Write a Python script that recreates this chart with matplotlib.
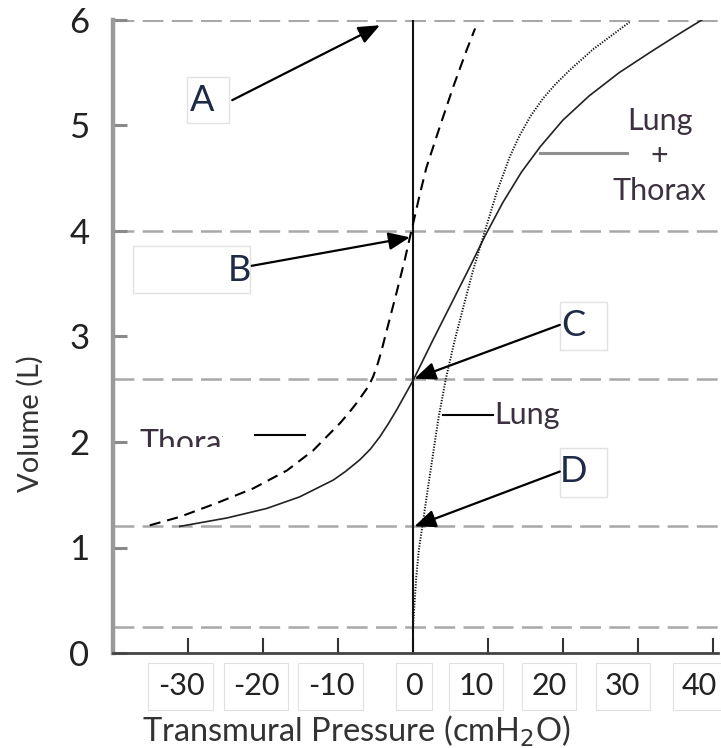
import matplotlib
matplotlib.use('Agg')
import matplotlib.pyplot as plt
from matplotlib.patches import Rectangle
from matplotlib.transforms import ScaledTranslation, Bbox, TransformedBbox

plt.rcParams['font.family'] = ['Lato', 'DejaVu Sans']
plt.rcParams['lines.scale_dashes'] = False

# ---------------- data ----------------
thorax_p = [-35.1, -31.1, -26.2, -21.3, -16.8, -13.3, -9.7, -8.5, -7.5, -6.6, -5.9, -5.3, -4.7,
            -4.2, -3.7, -2.2, -1.07, -0.4, 0, 0.9, 1.8, 3.6, 5.4, 7.2, 8.3]
thorax_v = [1.21, 1.29, 1.42, 1.56, 1.73, 1.92, 2.18, 2.28, 2.37, 2.46, 2.53, 2.62, 2.74,
            2.86, 3.0, 3.41, 3.73, 3.94, 4.06, 4.34, 4.60, 4.99, 5.37, 5.72, 5.92]

lung_thorax_p = [-31.1, -24.8, -19.5, -15.1, -10.6, -9.0, -7.1, -5.7, -4.4, -3.3, -2.2, -1.1, 0,
                 2.7, 5.4, 7.6, 9.6, 12.0, 14.5, 17.0, 20.0, 23.5, 27.5, 32.0, 36.0, 39.0]
lung_thorax_v = [1.20, 1.28, 1.37, 1.48, 1.64, 1.72, 1.83, 1.93, 2.05, 2.17, 2.30, 2.44, 2.58,
                 2.97, 3.35, 3.66, 3.95, 4.27, 4.56, 4.80, 5.05, 5.28, 5.50, 5.71, 5.89, 6.02]

lung_p = [0, 0.2, 0.45, 0.8, 1.3, 2.0, 2.7, 3.4, 4.4, 5.6, 6.7, 8.0, 9.4, 11.2, 12.9, 14.2,
          15.7, 17.4, 19.0, 21.0, 24.0, 28.9]
lung_v = [0.22, 0.45, 0.72, 0.98, 1.22, 1.56, 1.89, 2.22, 2.60, 2.97, 3.27, 3.62, 3.95, 4.37,
          4.70, 4.90, 5.09, 5.26, 5.39, 5.53, 5.72, 5.98]

ref_volumes = [6.0, 4.0, 2.6, 1.2, 0.25]

x_ticks = [-30, -20, -10, 0, 10, 20, 30, 40]
x_ticklabels = ['-30', '-20', '-10', '0', '10', '20', '30', '40']
y_ticks = [0, 1, 2, 3, 4, 5, 6]

point_labels = ['A', 'B', 'C', 'D']
arrow_tips = [(-4.4, 5.95), (-0.4, 3.94), (0.2, 2.6), (0.2, 1.2)]
arrow_starts = [(-24.1, 5.24), (-21.5, 3.67), (19.6, 3.11), (19.6, 1.72)]
label_pos = [(-28.1, 5.24), (-23.1, 3.63), (21.4, 3.1), (21.4, 1.72)]

# ---------------- figure ----------------
fig = plt.figure(figsize=(7.21, 7.48), dpi=100)
ax = fig.add_axes([113 / 721, 95 / 748, 605 / 721, 633 / 748])
ax.set_xlim(-40, 40.7)
ax.set_ylim(0, 6)

# horizontal reference dashed lines
for v in ref_volumes:
    ax.axhline(v, color='#a8a8a8', lw=2.2 if v == 6.0 else 1.8, dashes=(15, 6), zorder=1)

# vertical line at 0
ax.plot([0, 0], [0, 6], color='#111111', lw=1.5, zorder=2)

# curves
ax.plot(thorax_p, thorax_v, color='black', lw=1.5, dashes=(8, 5), zorder=3)
ax.plot(lung_thorax_p, lung_thorax_v, color='#222222', lw=1.2, zorder=3)
ax.plot(lung_p, lung_v, color='#111111', lw=1.4, linestyle=(0, (0.9, 1.1)), zorder=3)

# label boxes
boxes = [(-30.1, 5.02, 5.6, 0.44), (-37.3, 3.41, 15.6, 0.45),
         (19.6, 2.87, 6.3, 0.46), (19.6, 1.48, 6.3, 0.46)]
for (bx, by, bw, bh) in boxes:
    ax.add_patch(Rectangle((bx, by), bw, bh, fill=False, ec='#e2e2e2', lw=1.0, zorder=1))

# arrows and letters
for lab, tip, st, pos in zip(point_labels, arrow_tips, arrow_starts, label_pos):
    ax.annotate('', xy=tip, xytext=st,
                arrowprops=dict(arrowstyle='-|>,head_length=0.65,head_width=0.27',
                                mutation_scale=20, lw=1.6, color='black',
                                shrinkA=0, shrinkB=0), zorder=5)
    ax.text(pos[0], pos[1], lab, fontsize=26, color='#1f2a44', ha='center', va='center', zorder=5)

# curve labels
ax.plot([4.0, 10.7], [2.26, 2.26], color='black', lw=1.5)
ax.text(10.9, 2.26, 'Lung', fontsize=22, color='#3d3040', ha='left', va='center')

ax.plot([16.9, 28.5], [4.74, 4.74], color='#909090', lw=2.2)
ax.text(32.9, 4.71, 'Lung\n+\nThorax', fontsize=22, color='#3d3040', ha='center', va='center',
        linespacing=1.3)

ax.plot([-21.1, -14.4], [2.07, 2.07], color='black', lw=1.5)
thora = ax.text(-36.4, 1.9, 'Thorax', fontsize=23, color='#3d3040', ha='left', va='baseline')
thora.set_clip_on(True)
thora.set_clip_box(TransformedBbox(Bbox([[-40, 1.953], [-25.35, 2.6]]), ax.transData))

# axes styling
for s in ['top', 'right']:
    ax.spines[s].set_visible(False)
ax.spines['left'].set_color('#9a9a9a')
ax.spines['left'].set_linewidth(3.2)
ax.spines['bottom'].set_color('#444444')
ax.spines['bottom'].set_linewidth(2.0)

ax.set_xticks(x_ticks)
ax.set_xticklabels(x_ticklabels)
ax.set_yticks(y_ticks)
ax.tick_params(axis='x', direction='in', length=11, width=1.5, color='#333333',
               labelsize=22, pad=14, labelcolor='#222222')
ax.tick_params(axis='y', direction='in', length=10, width=2.2, color='#8a8a8a',
               labelsize=25, pad=17, labelcolor='#222222')

x_offsets_px = [-7, -7, -7, 1, -12, -14, -15, -13]
for lbl, off in zip(ax.get_xticklabels(), x_offsets_px):
    lbl.set_transform(lbl.get_transform() + ScaledTranslation(off / 100, 0, fig.dpi_scale_trans))
    lbl.set_bbox(dict(boxstyle='square,pad=0.3', fc='white', ec='#e0e0e0', lw=0.8))

ax.set_xlabel('Transmural Pressure (cmH$_2$O)', fontsize=23.5, color='#333333')
ax.xaxis.set_label_coords(0.402, -0.123)
ax.xaxis.label.set_va('center')
ax.set_ylabel('Volume (L)', fontsize=21, color='#333333')
ax.yaxis.set_label_coords(-0.137, 0.363)
ax.yaxis.label.set_va('center')

fig.savefig('out.png', dpi=100)
